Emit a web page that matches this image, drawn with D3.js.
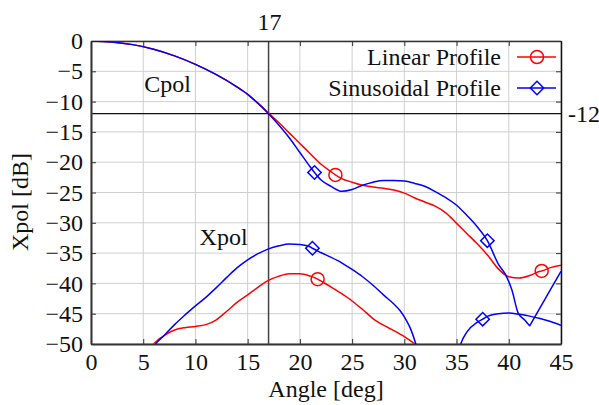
<!DOCTYPE html>
<html>
<head>
<meta charset="utf-8">
<script src="https://cdn.jsdelivr.net/npm/d3@7"></script>
<style>
  body { margin: 0; background: #fff; }
  svg { display: block; }
  svg text { font-family: "Liberation Serif", "Times New Roman", serif; }
</style>
</head>
<body>
<div id="chart"></div>
<script>
const width = 599;
const height = 405;
const margin = { top: 41, right: 38, bottom: 61, left: 91 };
const fontSize = 24;

// [angle deg, dB]
const cpolLinear = [
  [0, 0], [2, -0.15], [4, -0.6], [6, -1.35], [8, -2.45], [10, -3.85], [12, -5.55],
  [14, -7.6], [15, -8.8], [16, -10.3], [17, -11.9], [18, -13.5], [19, -15.2],
  [20, -16.9], [21, -18.6], [22, -20.3], [23, -21.6], [23.4, -22.1], [24, -22.7],
  [25, -23.3], [26, -23.8], [27, -24.1], [28, -24.3], [29, -24.6], [30, -25.1],
  [31, -25.9], [32, -26.6], [33, -27.3], [34, -28.4], [35, -30.1], [36, -31.8],
  [37, -33.5], [38, -35.4], [39, -37.6], [40, -38.9], [41, -39.1], [42, -38.7],
  [43, -38.0], [43.15, -37.95], [44, -37.4], [45, -37.0]
];
const cpolSinus = [
  [0, 0], [2, -0.15], [4, -0.6], [6, -1.35], [8, -2.45], [10, -3.85], [12, -5.55],
  [14, -7.6], [15, -8.8], [16, -10.3], [17, -12.0], [18, -13.9], [19, -16.0],
  [20, -18.4], [21, -20.8], [21.4, -21.7], [22, -22.9], [23, -24.0], [24, -24.8],
  [25, -24.5], [26, -23.8], [27, -23.3], [28, -23.0], [29, -23.0], [30, -23.1],
  [31, -23.5], [32, -24.0], [33, -24.9], [34, -25.9], [35, -27.1], [36, -28.8],
  [37, -30.7], [37.95, -32.95], [39, -36.8], [39.7, -38.6], [40.3, -41.1],
  [40.9, -44.9], [41.5, -46.0], [41.9, -46.8], [42, -47.0], [42.1, -46.7],
  [43, -44.0], [44, -41.0], [45, -38.0]
];
const xpolLinear = [
  [5.5, -51.5], [6, -50], [6.5, -49.2], [7, -48.6], [8, -47.7], [9, -47.3],
  [10, -47.1], [11, -46.8], [12, -46.0], [13, -44.6], [14, -43.1], [15, -41.9],
  [16, -40.6], [17, -39.5], [18, -38.8], [19, -38.4], [20, -38.4], [21, -38.8],
  [21.7, -39.3], [22, -39.6], [23, -40.6], [24, -41.7], [25, -42.9], [26, -44.3],
  [27, -45.8], [28, -46.9], [29, -47.8], [30, -48.8], [31, -50], [32, -51.5]
];
const xpolSinus = [
  [5.7, -51.5], [6.2, -50], [7, -48.6], [8, -46.8], [9, -45.2], [10, -43.7],
  [11, -42.3], [12, -40.7], [13, -39.0], [14, -37.4], [15, -36.1], [16, -35.1],
  [17, -34.3], [18, -33.8], [19, -33.5], [20, -33.6], [21, -34.0], [21.2, -34.2],
  [22, -34.9], [23, -35.7], [24, -36.6], [25, -37.7], [26, -38.9], [27, -40.3],
  [28, -41.9], [29, -43.4], [29.6, -44.5], [30.1, -45.8], [30.6, -47.5],
  [31.1, -50], [31.4, -52]
];
const xpolSinus2 = [
  [35.1, -52], [35.4, -50], [36, -48.0], [37, -46.4], [37.5, -45.9], [38, -45.4],
  [39, -45.0], [40, -44.9], [41, -45.1], [42, -45.4], [43, -45.8], [44, -46.3],
  [45, -46.9]
];
const linearMarkers = [[23.4, -22.1], [43.15, -37.95], [21.7, -39.3]];
const sinusMarkers = [[21.4, -21.7], [37.95, -32.95], [21.2, -34.2], [37.5, -45.9]];

const xTicks = d3.range(0, 46, 5);
const yTicks = d3.range(-50, 1, 5);
const refAngle = 17;
const refLevel = -12;
const legendItems = [
  { name: "Linear Profile", color: "#ff0000", marker: "circle" },
  { name: "Sinusoidal Profile", color: "#0000ff", marker: "diamond" }
];

const x = d3.scaleLinear().domain([0, 45]).range([margin.left, width - margin.right]);
const y = d3.scaleLinear().domain([-50, 0]).range([height - margin.bottom, margin.top]);

const svg = d3.select("#chart").append("svg")
  .attr("width", width)
  .attr("height", height);

svg.append("defs").append("clipPath").attr("id", "plot")
  .append("rect")
  .attr("x", x(0)).attr("y", y(0))
  .attr("width", x(45) - x(0)).attr("height", y(-50) - y(0));

// grid
const grid = svg.append("g").attr("stroke", "#cfcfcf").attr("stroke-width", 1);
grid.selectAll(".gx").data(xTicks).join("line")
  .attr("x1", d => x(d)).attr("x2", d => x(d))
  .attr("y1", y(0)).attr("y2", y(-50));
grid.selectAll(".gy").data(yTicks).join("line")
  .attr("x1", x(0)).attr("x2", x(45))
  .attr("y1", d => y(d)).attr("y2", d => y(d));

// reference lines
svg.append("line")
  .attr("x1", x(refAngle)).attr("x2", x(refAngle))
  .attr("y1", y(0)).attr("y2", y(-50))
  .attr("stroke", "#444").attr("stroke-width", 1.5);
svg.append("line")
  .attr("x1", x(0)).attr("x2", x(45))
  .attr("y1", y(refLevel)).attr("y2", y(refLevel))
  .attr("stroke", "#111").attr("stroke-width", 1.3);

// axes
const tickSize = 5;
svg.append("g").attr("transform", `translate(0,${y(-50)})`)
  .call(d3.axisBottom(x).tickValues(xTicks).tickSizeInner(-tickSize).tickSizeOuter(0).tickPadding(9))
  .call(g => g.select(".domain").attr("stroke", "#333").attr("stroke-width", 2));
svg.append("g").attr("transform", `translate(0,${y(0)})`)
  .call(d3.axisTop(x).tickValues(xTicks).tickSizeInner(-tickSize).tickSizeOuter(0).tickFormat(""))
  .call(g => g.select(".domain").attr("stroke", "#333").attr("stroke-width", 1.5));
svg.append("g").attr("transform", `translate(${x(0)},0)`)
  .call(d3.axisLeft(y).tickValues(yTicks).tickSizeInner(-tickSize).tickSizeOuter(0).tickPadding(8))
  .call(g => g.select(".domain").attr("stroke", "#333").attr("stroke-width", 2));
svg.append("g").attr("transform", `translate(${x(45)},0)`)
  .call(d3.axisRight(y).tickValues(yTicks).tickSizeInner(-tickSize).tickSizeOuter(0).tickFormat(""))
  .call(g => g.select(".domain").attr("stroke", "#111").attr("stroke-width", 1.5));

svg.selectAll(".tick line").attr("stroke", "#333");
svg.selectAll(".tick text")
  .style("font-size", fontSize + "px")
  .attr("fill", "#111");

// curves
const line = d3.line()
  .x(d => x(d[0]))
  .y(d => y(d[1]))
  .curve(d3.curveMonotoneX);

const curves = svg.append("g").attr("clip-path", "url(#plot)").attr("fill", "none").attr("stroke-width", 1.5);
[[cpolLinear, "#ff0000"], [xpolLinear, "#ff0000"],
 [cpolSinus, "#0000ff"], [xpolSinus, "#0000ff"], [xpolSinus2, "#0000ff"]]
  .forEach(([data, color]) => {
    curves.append("path").attr("d", line(data)).attr("stroke", color);
  });

const diamond = d3.symbol().type(d3.symbolSquare).size(90);

curves.selectAll(".mc").data(linearMarkers).join("circle")
  .attr("cx", d => x(d[0])).attr("cy", d => y(d[1]))
  .attr("r", 6.5).attr("stroke", "#ff0000");
curves.selectAll(".md").data(sinusMarkers).join("path")
  .attr("d", diamond)
  .attr("transform", d => `translate(${x(d[0])},${y(d[1])}) rotate(45)`)
  .attr("stroke", "#0000ff");

// labels
const txt = (s, px, py, anchor) => svg.append("text")
  .attr("x", px).attr("y", py)
  .attr("text-anchor", anchor)
  .style("font-size", fontSize + "px")
  .attr("fill", "#111")
  .text(s);

txt(String(refAngle), x(refAngle) + 1, 30, "middle");
txt(String(refLevel), x(45) + 7, y(refLevel) + 8, "start");
txt("Cpol", x(5.1), 92, "start");
txt("Xpol", x(10.4), 245, "start");
txt("Angle [deg]", (x(0) + x(45)) / 2, 397, "middle");
svg.append("text")
  .attr("transform", `translate(28,202) rotate(-90)`)
  .attr("text-anchor", "middle")
  .style("font-size", fontSize + "px")
  .attr("fill", "#111")
  .text("Xpol [dB]");

// legend
const legend = svg.append("g");
legendItems.forEach((item, i) => {
  const ly = 57 + i * 31;
  legend.append("text")
    .attr("x", 501).attr("y", ly + 8)
    .attr("text-anchor", "end")
    .style("font-size", fontSize + "px")
    .attr("fill", "#111")
    .text(item.name);
  legend.append("line")
    .attr("x1", 517).attr("x2", 556)
    .attr("y1", ly).attr("y2", ly)
    .attr("stroke", item.color).attr("stroke-width", 1.5);
  if (item.marker === "circle") {
    legend.append("circle").attr("cx", 537).attr("cy", ly).attr("r", 6.5)
      .attr("fill", "none").attr("stroke", item.color).attr("stroke-width", 1.5);
  } else {
    legend.append("path").attr("d", diamond)
      .attr("transform", `translate(537,${ly}) rotate(45)`)
      .attr("fill", "none").attr("stroke", item.color).attr("stroke-width", 1.5);
  }
});
</script>
</body>
</html>
